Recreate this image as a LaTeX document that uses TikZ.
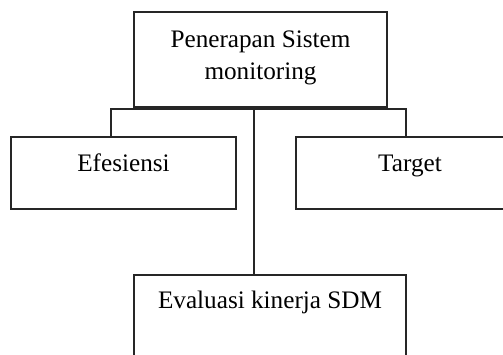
\documentclass[tikz,border=0pt]{standalone}
\usepackage{fontspec}
\setmainfont{Liberation Serif}
\begin{document}
\begin{tikzpicture}[x=1pt,y=-1pt,
  box/.style={draw=black!85,line width=1.1pt,rectangle,inner sep=0pt},
  lbl/.style={inner sep=0pt,font=\fontsize{25.2}{32}\selectfont,align=center},
  conn/.style={draw=black!85,line width=1.1pt}]
\useasboundingbox (0,0) rectangle (503,354);
\clip (0,0) rectangle (503,354);
% boxes
\node[box,minimum width=253pt,minimum height=95pt] (top) at (260.5,59.5) {};
\node[box,minimum width=225pt,minimum height=72pt] (left) at (123.5,173) {};
\node[box,minimum width=228pt,minimum height=72pt] (right) at (410,173) {};
\node[box,minimum width=272pt,minimum height=100pt] (bottom) at (270,325) {};
% texts
\node[lbl] (toptxt) at (260.5,58) {Penerapan Sistem\\monitoring};
\node[lbl,anchor=base] (lefttxt) at (123.5,171) {Efesiensi};
\node[lbl,anchor=base] (righttxt) at (410,171) {Target};
\node[lbl,anchor=base] (bottomtxt) at (270,308) {Evaluasi kinerja SDM};
% connectors
\coordinate (hl) at (111,109);
\coordinate (hr) at (406,109);
\coordinate (mid) at (254,109);
\draw[conn] (left.north -| hl) -- (hl) -- (hr) -- (right.north -| hr);
\draw[conn] (top.south -| mid) -- (bottom.north -| mid);
\end{tikzpicture}
\end{document}
